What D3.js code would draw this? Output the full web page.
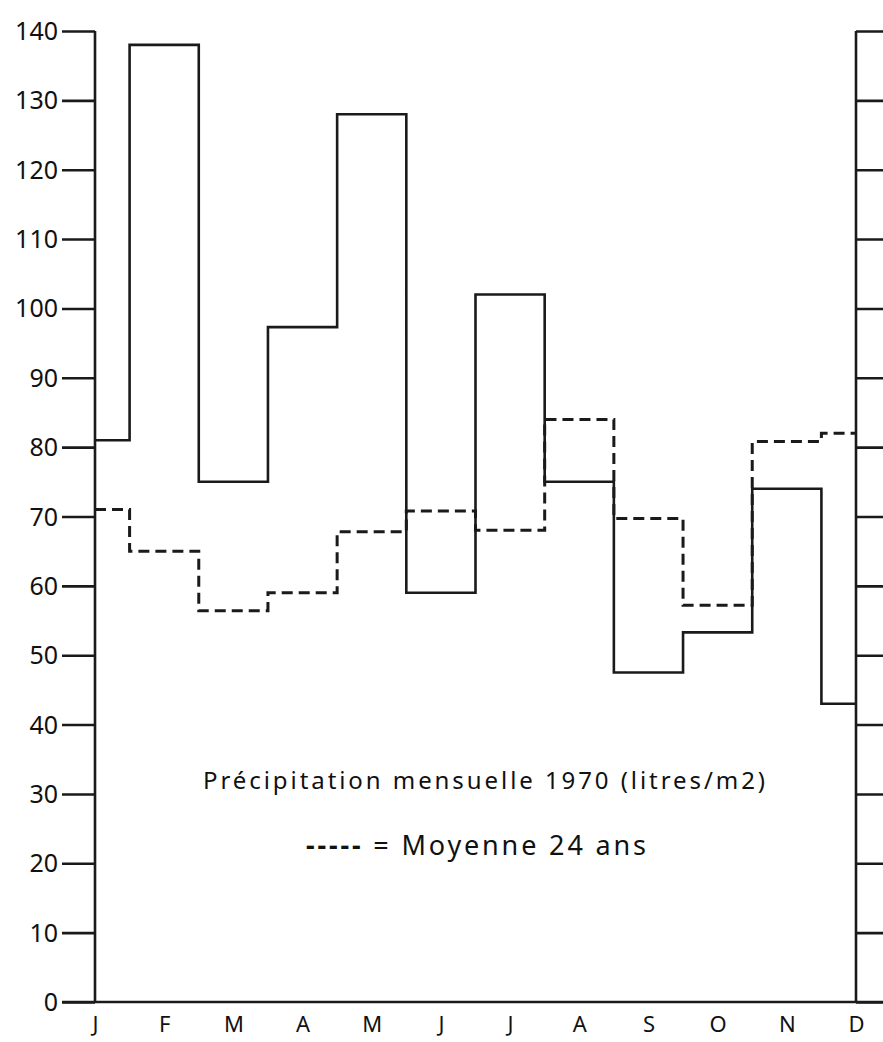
<!DOCTYPE html>
<html>
<head>
<meta charset="utf-8">
<script src="https://cdn.jsdelivr.net/npm/d3@7/dist/d3.min.js"></script>
<style>
  html, body { margin: 0; padding: 0; background: #fff; }
  svg { display: block; }
  text { font-family: "Noto Sans", "DejaVu Sans", sans-serif; fill: #111; }
</style>
</head>
<body>
<script>
// ---- data ----
const months = ["J", "F", "M", "A", "M", "J", "J", "A", "S", "O", "N", "D"];
const precip1970 = [81, 138, 75, 97.3, 128, 59, 102, 75, 47.5, 53.3, 74, 43];
const moyenne24 = [71, 65, 56.4, 59, 67.8, 70.8, 68, 84, 69.7, 57.2, 80.8, 82];
const yTicks = [0, 10, 20, 30, 40, 50, 60, 70, 80, 90, 100, 110, 120, 130, 140];
const titleText = "Précipitation mensuelle 1970 (litres/m2)";
const legendDash = "-----";
const legendText = " = Moyenne 24 ans";

// ---- layout ----
const W = 883, H = 1042;
const svg = d3.select("body").append("svg").attr("width", W).attr("height", H);

const x = d3.scaleLinear().domain([0, months.length - 1]).range([95, 856]);
const y = d3.scaleLinear().domain([0, 140]).range([1002, 31]);

const ink = "#1a1a1a";

// left axis
const leftAxis = d3.axisLeft(y).tickValues(yTicks).tickSize(33).tickPadding(4).tickFormat(d3.format("d"));
const gL = svg.append("g").attr("transform", `translate(${x(0)},0)`).call(leftAxis);
gL.select(".domain").remove();
gL.selectAll(".tick line").attr("stroke", ink).attr("stroke-width", 2.6);
gL.selectAll(".tick text").attr("font-size", 25).attr("fill", ink).attr("dy", "0.34em")
  .style("font-family", '"Noto Sans", sans-serif');
gL.append("line").attr("x1", 0).attr("x2", 0).attr("y1", y(140)).attr("y2", y(0))
  .attr("stroke", ink).attr("stroke-width", 2.6);

// right axis
const rightAxis = d3.axisRight(y).tickValues(yTicks).tickSize(40).tickFormat("");
const gR = svg.append("g").attr("transform", `translate(${x(11)},0)`).call(rightAxis);
gR.select(".domain").remove();
gR.selectAll(".tick line").attr("stroke", ink).attr("stroke-width", 2.6);
gR.append("line").attr("x1", 0).attr("x2", 0).attr("y1", y(140)).attr("y2", y(0))
  .attr("stroke", ink).attr("stroke-width", 2.6);

// bottom axis line
svg.append("line").attr("x1", x(0) - 33).attr("x2", W).attr("y1", y(0)).attr("y2", y(0))
  .attr("stroke", ink).attr("stroke-width", 2.6);

// month labels
const bottomAxis = d3.axisBottom(x).tickValues(d3.range(months.length)).tickSize(0).tickPadding(14)
  .tickFormat(i => months[i]);
const gB = svg.append("g").attr("transform", `translate(0,${y(0)})`).call(bottomAxis);
gB.select(".domain").remove();
gB.selectAll(".tick text").attr("font-size", 22).attr("fill", "#333")
  .style("font-family", '"Noto Sans", sans-serif');

// step lines
const stepLine = d3.line().x(d => x(d[0])).y(d => y(d[1])).curve(d3.curveStep);
const toPts = arr => arr.map((v, i) => [i, v]);

svg.append("path").attr("d", stepLine(toPts(moyenne24)))
  .attr("fill", "none").attr("stroke", ink).attr("stroke-width", 3)
  .attr("stroke-dasharray", "11,6");

svg.append("path").attr("d", stepLine(toPts(precip1970)))
  .attr("fill", "none").attr("stroke", ink).attr("stroke-width", 2.6);

// annotation
svg.append("text").attr("x", 203).attr("y", 789).attr("font-size", 24)
  .attr("textLength", 562).attr("lengthAdjust", "spacing").text(titleText);
const leg = svg.append("text").attr("x", 306).attr("y", 855).attr("font-size", 27)
  .attr("textLength", 340).attr("lengthAdjust", "spacing");
leg.append("tspan").attr("font-weight", "bold").text(legendDash);
leg.append("tspan").text(legendText);
</script>
</body>
</html>
